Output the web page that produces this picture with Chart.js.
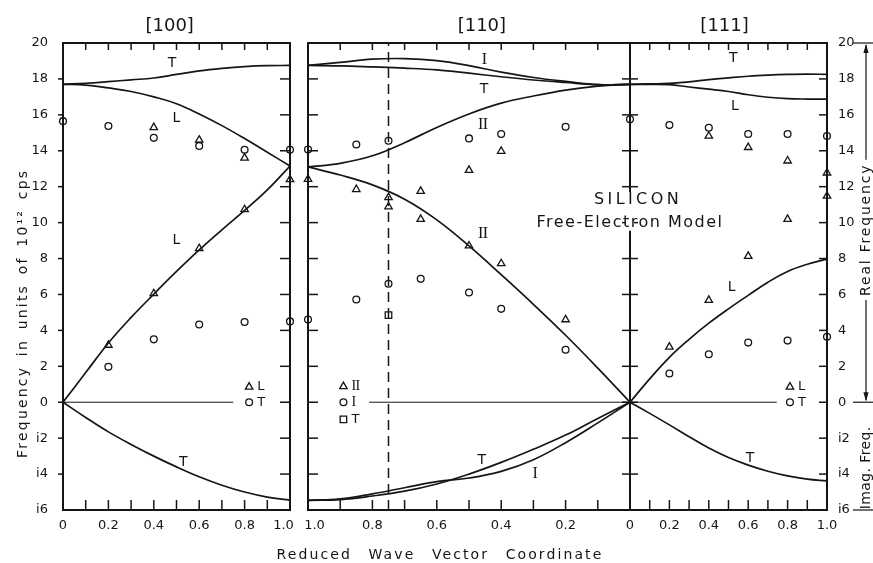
<!DOCTYPE html>
<html>
<head>
<meta charset="utf-8">
<title>Silicon – Free-Electron Model dispersion</title>
<script src="https://cdn.jsdelivr.net/npm/chart.js@4.4.1/dist/chart.umd.min.js"></script>
<style>
  html, body { margin: 0; padding: 0; background: #fff; }
  #stage { position: relative; width: 873px; height: 563px; overflow: hidden; background: #fff; }
  #stage canvas { position: absolute; left: 0; top: 0; }
</style>
</head>
<body>
<div id="stage">
  <canvas id="p100" width="873" height="563"></canvas>
  <canvas id="p110" width="873" height="563"></canvas>
  <canvas id="p111" width="873" height="563"></canvas>
</div>
<script>
// ---------- axis ticks ----------
const freqTicks  = [-6, -4, -2, 0, 2, 4, 6, 8, 10, 12, 14, 16, 18, 20];
const freqLabels = ['i6', 'i4', 'i2', '0', '2', '4', '6', '8', '10', '12', '14', '16', '18', '20'];
const qMajor  = [0, 0.2, 0.4, 0.6, 0.8, 1.0];
const qLabels = ['0', '0.2', '0.4', '0.6', '0.8', '1.0'];
const qMinor  = [0.1, 0.2, 0.3, 0.4, 0.5, 0.6, 0.7, 0.8, 0.9];

// ---------- theory curves (imaginary frequencies stored as negatives) ----------
const qGrid = [0, 0.1, 0.2, 0.3, 0.4, 0.5, 0.6, 0.7, 0.8, 0.9, 1.0];

// [100]
const w100_T   = [17.70, 17.76, 17.85, 17.95, 18.05, 18.25, 18.45, 18.59, 18.69, 18.74, 18.75];
const w100_L   = [17.70, 17.66, 17.50, 17.30, 17.00, 16.62, 16.05, 15.40, 14.68, 13.92, 13.15];
const w100_La  = [0, 1.65, 3.30, 4.72, 6.02, 7.28, 8.48, 9.60, 10.68, 11.82, 13.15];
const w100_Ti  = [0, -0.85, -1.65, -2.35, -3.00, -3.60, -4.15, -4.62, -5.00, -5.28, -5.45];

// [110]
const w110_I   = [17.70, 17.68, 17.86, 18.08, 18.38, 18.74, 19.02, 19.13, 19.10, 18.92, 18.75];
const w110_T   = [17.70, 17.68, 17.80, 17.94, 18.12, 18.32, 18.50, 18.60, 18.67, 18.73, 18.75];
const w110_II  = [17.70, 17.60, 17.38, 17.05, 16.65, 16.05, 15.30, 14.45, 13.72, 13.30, 13.10];
const w110_IIa = [0, 1.90, 3.73, 5.45, 7.10, 8.70, 10.15, 11.30, 12.10, 12.65, 13.10];
const w110_Ti  = [0, -0.90, -1.83, -2.62, -3.35, -4.00, -4.55, -4.95, -5.22, -5.42, -5.46];
const w110_Ii  = [0, -1.15, -2.25, -3.20, -3.85, -4.22, -4.42, -4.76, -5.10, -5.38, -5.46];

// [111]
const w111_T   = [17.70, 17.72, 17.75, 17.84, 17.96, 18.06, 18.15, 18.21, 18.25, 18.27, 18.25];
const w111_L   = [17.70, 17.70, 17.68, 17.55, 17.43, 17.30, 17.12, 16.98, 16.90, 16.88, 16.88];
const w111_La  = [0, 1.30, 2.50, 3.50, 4.40, 5.20, 5.95, 6.68, 7.28, 7.68, 7.97];
const w111_Ti  = [0, -0.62, -1.26, -1.92, -2.55, -3.08, -3.50, -3.84, -4.10, -4.28, -4.38];

// ---------- measured branches ----------
// [100]: triangles = L, circles = T
const m100_Lq = [0.4, 0.6, 0.8, 1.0, 0.2, 0.4, 0.6, 0.8];
const m100_Lf = [15.30, 14.60, 13.60, 12.40, 3.18, 6.05, 8.56, 10.73];
const m100_Tq = [0, 0.2, 0.4, 0.6, 0.8, 1.0, 0.2, 0.4, 0.6, 0.8, 1.0];
const m100_Tf = [15.65, 15.38, 14.72, 14.27, 14.05, 14.05, 1.97, 3.50, 4.33, 4.47, 4.50];

// [110]: triangles = II, circles = I, squares = T
const m110_IIq = [1.0, 0.85, 0.75, 0.75, 0.65, 0.65, 0.5, 0.5, 0.4, 0.4, 0.2];
const m110_IIf = [12.42, 11.85, 11.40, 10.88, 11.75, 10.19, 12.92, 8.71, 13.98, 7.72, 4.60];
const m110_Iq  = [1.0, 0.85, 0.75, 0.5, 0.4, 0.2, 1.0, 0.85, 0.75, 0.65, 0.5, 0.4, 0.2];
const m110_If  = [14.07, 14.35, 14.56, 14.69, 14.93, 15.34, 4.60, 5.72, 6.60, 6.87, 6.11, 5.20, 2.92];
const m110_Tq  = [0.75];
const m110_Tf  = [4.85];

// [111]: triangles = L, circles = T
const m111_Lq = [0.4, 0.6, 0.8, 1.0, 1.0, 0.2, 0.4, 0.6, 0.8];
const m111_Lf = [14.82, 14.19, 13.44, 12.77, 11.48, 3.08, 5.68, 8.13, 10.19];
const m111_Tq = [0, 0.2, 0.4, 0.6, 0.8, 1.0, 0.2, 0.4, 0.6, 0.8, 1.0];
const m111_Tf = [15.75, 15.43, 15.28, 14.93, 14.93, 14.82, 1.60, 2.67, 3.32, 3.43, 3.64];

// ---------- reference lines ----------
const zero100 = [0, 0.75];
const zero110 = [0, 0.81];
const zero111 = [0, 0.745];
const dash110 = [0.75, 0.75];
const dashSpan = [-6, 20];

// ---------- styling ----------
const INK = '#151515';
const FONT = '"DejaVu Sans", "Liberation Sans", sans-serif';
const SERIF = '"Liberation Serif", "DejaVu Serif", serif';
const R = { circle: 3.4, triangle: 4.3, rect: 4.6 };
const EM = '\u2003';

Chart.defaults.font.family = FONT;
Chart.defaults.color = INK;

const pts = (xs, ys) => xs.map((x, i) => ({ x, y: ys[i] }));

function curve(ys, width) {
  return { type: 'line', data: pts(qGrid, ys), borderColor: INK, borderWidth: width || 1.7,
           pointRadius: 0, cubicInterpolationMode: 'default', tension: 0.4, fill: false };
}
function guide(xs, ys, width, dash) {
  return { type: 'line', data: pts(xs, ys), borderColor: INK, borderWidth: width,
           borderDash: dash || [], pointRadius: 0, fill: false, tension: 0 };
}
function marks(xs, ys, style) {
  return { type: 'scatter', data: pts(xs, ys), pointStyle: style, pointRadius: R[style],
           borderColor: INK, borderWidth: 1.3, backgroundColor: 'rgba(0,0,0,0)',
           clip: false, showLine: false };
}

// ---------- drawing helpers ----------
function text(ctx, str, x, y, font, opt) {
  opt = opt || {};
  ctx.save();
  ctx.font = font;
  ctx.fillStyle = INK;
  ctx.textAlign = opt.align || 'center';
  ctx.textBaseline = 'middle';
  if ('letterSpacing' in ctx) ctx.letterSpacing = (opt.ls || 0) + 'px';
  if ('wordSpacing' in ctx) ctx.wordSpacing = (opt.ws || 0) + 'px';
  ctx.translate(x, y);
  if (opt.rot) ctx.rotate(opt.rot);
  ctx.fillText(str, 0, 0);
  const w = ctx.measureText(str).width;
  ctx.restore();
  return w;
}
function marker(ctx, style, x, y) {
  ctx.save();
  ctx.strokeStyle = INK;
  ctx.lineWidth = 1.3;
  ctx.beginPath();
  if (style === 'circle') {
    ctx.arc(x, y, R.circle, 0, Math.PI * 2);
  } else if (style === 'triangle') {
    const r = R.triangle;
    ctx.moveTo(x, y - r);
    ctx.lineTo(x + 0.866 * r, y + 0.5 * r);
    ctx.lineTo(x - 0.866 * r, y + 0.5 * r);
    ctx.closePath();
  } else {
    const h = R.rect * Math.SQRT1_2;
    ctx.rect(x - h, y - h, 2 * h, 2 * h);
  }
  ctx.stroke();
  ctx.restore();
}
function arrowHead(ctx, x, y, dir) {
  ctx.beginPath();
  ctx.moveTo(x, y);
  ctx.lineTo(x - 2.6, y - dir * 9);
  ctx.lineTo(x + 2.6, y - dir * 9);
  ctx.closePath();
  ctx.fill();
}

// ---------- per-panel decoration ----------
const panels = {
  p100: {
    title: '[100]', titleAt: 0.47,
    sides: ['left', 'right', 'top', 'bottom'],
    edges: [{ side: 'left', inner: 0, outer: 5 }, { side: 'right', inner: 10, outer: 0 }],
    labels: [['T', 0.48, 18.85], ['L', 0.50, 15.8], ['L', 0.50, 9.0], ['T', 0.53, -3.32]],
    legend: { at: 0.82, rows: [['triangle', 'L', 0.85], ['circle', 'T', 0]] },
    extra(ctx, a, X, Y) {
      text(ctx, 'Frequency in units of 10¹² cps', a.left - 40, Y(4.95), '14px ' + FONT,
           { rot: -Math.PI / 2, ls: 2.2, ws: 3 });
    }
  },
  p110: {
    title: '[110]', titleAt: 0.46,
    sides: ['left', 'right', 'top', 'bottom'],
    edges: [{ side: 'left', inner: 10, outer: 0 }, { side: 'right', inner: 8, outer: 8 }],
    labels: [['I', 0.453, 19.08], ['T', 0.453, 17.41], ['II', 0.457, 15.43], ['II', 0.457, 9.4],
             ['T', 0.46, -3.23], ['I', 0.295, -3.97]],
    legend: { at: 0.89, rows: [['triangle', 'II', 0.88], ['circle', 'I', 0], ['rect', 'T', -0.95]] },
    extra(ctx, a) {
      text(ctx, 'Reduced Wave Vector Coordinate', a.left + 132, a.bottom + 45, '14px ' + FONT,
           { ls: 2.1, ws: 10 });
    }
  },
  p111: {
    title: '[111]', titleAt: 0.48,
    sides: ['right', 'top', 'bottom'],
    edges: [{ side: 'right', inner: 8, outer: 0 }],
    labels: [['T', 0.524, 19.14], ['L', 0.533, 16.49], ['L', 0.516, 6.38], ['T', 0.609, -3.14]],
    legend: { at: 0.812, rows: [['triangle', 'L', 0.85], ['circle', 'T', 0]] },
    extra(ctx, a, X, Y, seg) {
      // model caption, on a white ground that interrupts the Γ line
      ctx.fillStyle = '#fff';
      ctx.fillRect(a.left - 4, Y(11.7), 8, Y(9.55) - Y(11.7));
      text(ctx, 'SILICON', a.left + 8, Y(11.25), '16px ' + FONT, { ls: 3.4 });
      text(ctx, 'Free-Electron Model', a.left, Y(10.0), '16px ' + FONT, { ls: 1.5 });

      // real / imaginary frequency brackets on the far right
      const ax = a.right + 39, x0 = a.right + 26, x1 = a.right + 46;
      ctx.fillStyle = INK;
      seg(x0, Y(20), x1, Y(20), 1.2);
      seg(x0, Y(0), x1, Y(0), 1.2);
      seg(x0, Y(-6), x1, Y(-6), 1.2);
      const realC = Y(9.6);
      const wr = text(ctx, 'Real Frequency', ax, realC, '14px ' + FONT, { rot: -Math.PI / 2, ls: 1.8 });
      seg(ax, Y(20) + 2, ax, realC - wr / 2 - 4, 1.2);
      seg(ax, realC + wr / 2 + 4, ax, Y(0) - 2, 1.2);
      arrowHead(ctx, ax, Y(20) + 1, -1);
      arrowHead(ctx, ax, Y(0) - 1, 1);
      text(ctx, 'Imag. Freq.', ax, Y(-3.65), '14px ' + FONT, { rot: -Math.PI / 2, ls: 0.4 });
    }
  }
};

const panelDecor = {
  id: 'panelDecor',
  afterDraw(chart) {
    const p = panels[chart.canvas.id];
    const { ctx, chartArea: a } = chart;
    const xs = chart.scales.x, ys = chart.scales.y;
    const X = v => xs.getPixelForValue(v), Y = v => ys.getPixelForValue(v);
    const seg = (x1, y1, x2, y2, w) => {
      ctx.lineWidth = w; ctx.beginPath(); ctx.moveTo(x1, y1); ctx.lineTo(x2, y2); ctx.stroke();
    };
    ctx.save();
    ctx.strokeStyle = INK;
    ctx.fillStyle = INK;
    ctx.lineCap = 'square';

    // frame
    for (const s of p.sides) {
      if (s === 'left')   seg(a.left, a.top, a.left, a.bottom, 2);
      if (s === 'right')  seg(a.right, a.top, a.right, a.bottom, 2);
      if (s === 'top')    seg(a.left, a.top, a.right, a.top, 2);
      if (s === 'bottom') seg(a.left, a.bottom, a.right, a.bottom, 2);
    }
    ctx.lineCap = 'butt';
    // tenths along top and bottom
    for (const q of qMinor) {
      const px = X(q);
      seg(px, a.top, px, a.top + 7, 1.5);
      seg(px, a.bottom, px, a.bottom - 10, 1.5);
    }
    // frequency ticks on vertical edges
    for (const e of p.edges) {
      const ex = e.side === 'left' ? a.left : a.right;
      const d = e.side === 'left' ? 1 : -1;
      for (const f of freqTicks) {
        if (f === 20 || f === -6) continue;
        const py = Y(f);
        seg(ex - d * e.outer, py, ex + d * e.inner, py, 1.5);
      }
    }
    // panel title
    text(ctx, p.title, X(p.titleAt), a.top - 17, '18px ' + FONT);
    // branch labels
    for (const [s, q, f] of p.labels) {
      const roman = s === 'I' || s === 'II';
      text(ctx, s, X(q), Y(f), roman ? '16px ' + SERIF : '14px ' + FONT, { ls: roman ? -0.5 : 0 });
    }
    // symbol key
    for (const [style, s, f] of p.legend.rows) {
      const px = X(p.legend.at), py = Y(f);
      marker(ctx, style, px, py);
      const roman = s === 'I' || s === 'II';
      text(ctx, s, px + 8, py, roman ? '14px ' + SERIF : '13px ' + FONT, { align: 'left', ls: roman ? -0.5 : 0 });
    }
    if (p.extra) p.extra(ctx, a, X, Y, seg);
    ctx.restore();
  }
};

// ---------- scales ----------
// nudge: where two panels meet, the "1.0" labels are set apart from each other
function xScale(reverse, hideZero, nudge) {
  return {
    type: 'linear', min: 0, max: 1, reverse, position: 'bottom',
    afterFit: s => { s.height = 53; },
    afterBuildTicks: s => { s.ticks = qMajor.map(v => ({ value: v })); },
    grid: { display: false }, border: { display: false },
    ticks: { padding: 0, maxRotation: 0, autoSkip: false, color: INK,
             font: { size: 13, family: FONT },
             callback: (v, i) => {
               if (hideZero && i === 0) return '';
               const lab = qLabels[i];
               if (i === qLabels.length - 1 && nudge === 'left') return lab + EM;
               if (i === qLabels.length - 1 && nudge === 'right') return EM + lab;
               return lab;
             } }
  };
}
function yScale(position, show) {
  const cfg = {
    type: 'linear', min: -6, max: 20, position, display: show,
    afterBuildTicks: s => { s.ticks = freqTicks.map(v => ({ value: v })); },
    grid: { display: false }, border: { display: false },
    ticks: { padding: position === 'left' ? 7 : 3, color: INK,
             font: { size: 13, family: FONT }, callback: (v, i) => freqLabels[i] }
  };
  if (show) cfg.afterFit = s => { s.width = position === 'left' ? 63 : 46; };
  return cfg;
}

function build(id, datasets, x, y, padding) {
  return new Chart(document.getElementById(id), {
    type: 'scatter',
    data: { datasets },
    options: {
      responsive: false, animation: false, devicePixelRatio: 1, events: [],
      layout: { padding },
      plugins: { legend: { display: false }, tooltip: { enabled: false }, title: { display: false } },
      scales: { x, y }
    },
    plugins: [panelDecor]
  });
}

// [100]
build('p100', [
  marks(m100_Lq, m100_Lf, 'triangle'),
  marks(m100_Tq, m100_Tf, 'circle'),
  curve(w100_T), curve(w100_L), curve(w100_La), curve(w100_Ti),
  guide(zero100, [0, 0], 1)
], xScale(false, false, 'left'), yScale('left', true), { left: 0, right: 583, top: 43, bottom: 0 });

// [110]
build('p110', [
  marks(m110_IIq, m110_IIf, 'triangle'),
  marks(m110_Iq, m110_If, 'circle'),
  marks(m110_Tq, m110_Tf, 'rect'),
  curve(w110_I), curve(w110_T), curve(w110_II), curve(w110_IIa), curve(w110_Ti), curve(w110_Ii),
  guide(zero110, [0, 0], 1),
  guide(dash110, dashSpan, 1.5, [10, 6])
], xScale(true, false, 'right'), yScale('left', false), { left: 308, right: 243, top: 43, bottom: 0 });

// [111]
build('p111', [
  marks(m111_Lq, m111_Lf, 'triangle'),
  marks(m111_Tq, m111_Tf, 'circle'),
  curve(w111_T), curve(w111_L), curve(w111_La), curve(w111_Ti),
  guide(zero111, [0, 0], 1)
], xScale(false, true, null), yScale('right', true), { left: 630, right: 0, top: 43, bottom: 0 });
</script>
</body>
</html>
